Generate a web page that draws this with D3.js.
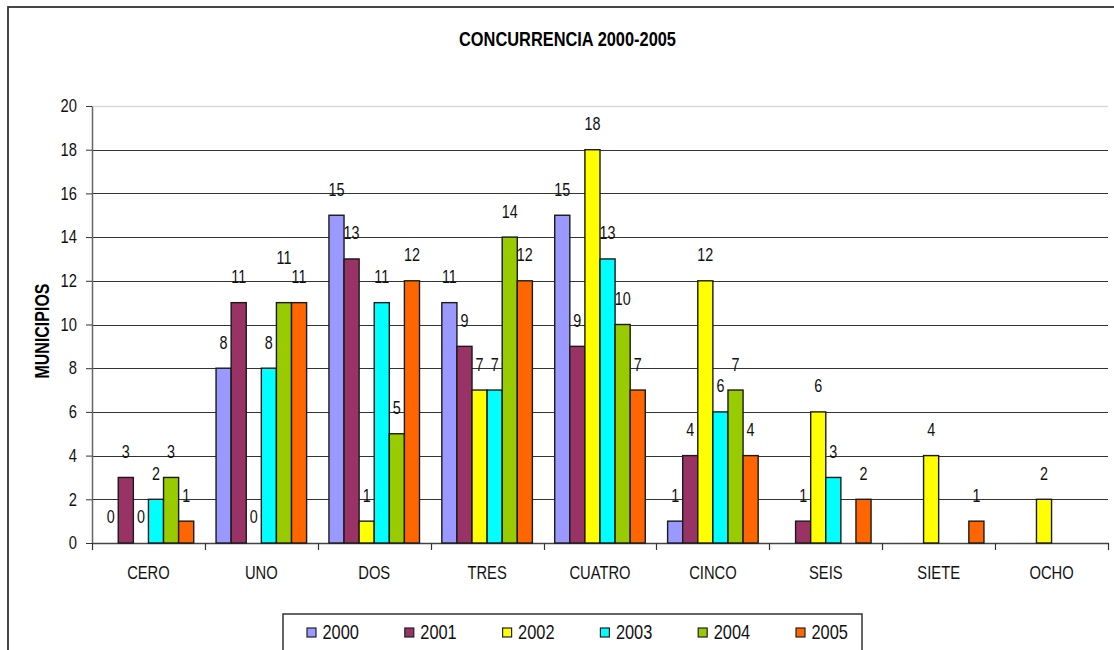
<!DOCTYPE html>
<html>
<head>
<meta charset="utf-8">
<script src="https://cdn.jsdelivr.net/npm/d3@7"></script>
<style>
  html, body { margin: 0; padding: 0; background: #fff; }
  svg { display: block; }
</style>
</head>
<body>
<svg id="chart" width="1114" height="650"></svg>
<script>
// ---------- DATA ----------
const categories = ["CERO", "UNO", "DOS", "TRES", "CUATRO", "CINCO", "SEIS", "SIETE", "OCHO"];
const years = ["2000", "2001", "2002", "2003", "2004", "2005"];
const v2000 = [0, 8, 15, 11, 15, 1, null, null, null];
const v2001 = [3, 11, 13, 9, 9, 4, 1, null, null];
const v2002 = [0, 0, 1, 7, 18, 12, 6, 4, 2];
const v2003 = [2, 8, 11, 7, 13, 6, 3, null, null];
const v2004 = [3, 11, 5, 14, 10, 7, null, null, null];
const v2005 = [1, 11, 12, 12, 7, 4, 2, 1, null];
const yTicks = [0, 2, 4, 6, 8, 10, 12, 14, 16, 18, 20];
const colors = ["#9999FF", "#993366", "#FFFF00", "#00FFFF", "#99CC00", "#FF6600"];
const titleText = "CONCURRENCIA 2000-2005";
const yTitle = "MUNICIPIOS";
// label that was lifted in the original to avoid overlap (style tweak)
const labelLift = { "UNO|2004": 19 };

const seriesValues = [v2000, v2001, v2002, v2003, v2004, v2005];

// ---------- SETUP ----------
const svg = d3.select("#chart");

let FONT = "'Liberation Sans Narrow', 'Arial Narrow'";
let SX = 1;
{
  const t = svg.append("text").style("font-size", "20px").text("CONCURRENCIA 2000");
  t.style("font-family", "'Liberation Sans Narrow'");
  const wN = t.node().getComputedTextLength();
  t.style("font-family", "'Liberation Sans'");
  const wR = t.node().getComputedTextLength();
  t.remove();
  if (!(wN / wR < 0.9)) { FONT = "'Liberation Sans', Arial, sans-serif"; SX = 0.82; }
}

svg.append("rect").attr("x", 0).attr("y", 0).attr("width", 1114).attr("height", 650).attr("fill", "#fff");
svg.append("rect").attr("x", 8).attr("y", 7).attr("width", 1300).attr("height", 800)
  .attr("fill", "#fff").attr("stroke", "#333").attr("stroke-width", 1.8);

const y = d3.scaleLinear().domain([0, 20]).range([543, 106]);
const x0 = d3.scaleBand().domain(categories).range([92, 1108]).paddingInner(0).paddingOuter(0);
const x1 = d3.scaleBand().domain(years).range([0, x0.bandwidth()]).paddingInner(0).paddingOuter(0.74);

// gridlines
svg.append("g").selectAll("line").data(yTicks.filter(d => d > 0)).join("line")
  .attr("x1", 92).attr("x2", 1108)
  .attr("y1", d => Math.round(y(d)) + 0.5).attr("y2", d => Math.round(y(d)) + 0.5)
  .attr("stroke", d => d === 20 ? "#d9d9d9" : "#333").attr("stroke-width", d => d === 20 ? 1.5 : 1);

// y axis
const yAxis = svg.append("g").attr("transform", "translate(92,0)")
  .call(d3.axisLeft(y).tickValues(yTicks).tickSize(6).tickSizeOuter(0).tickPadding(9));
yAxis.select(".domain").attr("stroke", "#666").attr("stroke-width", 1.5);
yAxis.selectAll(".tick line").attr("stroke", "#333");
yAxis.selectAll(".tick text").style("font-family", FONT).style("font-size", "18px").attr("fill", "#111");

// x axis
const xAxis = svg.append("g").attr("transform", "translate(0,543)")
  .call(d3.axisBottom(x0).tickSize(0).tickSizeOuter(0));
xAxis.select(".domain").attr("stroke", "#444").attr("stroke-width", 1.5);
xAxis.selectAll(".tick text").attr("y", 36).attr("dy", 0)
  .style("font-family", FONT).style("font-size", "18px").attr("fill", "#111");
const bounds = categories.map(c => x0(c)).concat([x0.range()[1]]);
svg.append("g").selectAll("line").data(bounds).join("line")
  .attr("x1", d => Math.round(d) + 0.5).attr("x2", d => Math.round(d) + 0.5)
  .attr("y1", 543).attr("y2", 550).attr("stroke", "#333").attr("stroke-width", 1.2);

// bars
const flat = [];
categories.forEach((c, i) => {
  years.forEach((yr, j) => {
    const v = seriesValues[j][i];
    if (v !== null && v !== undefined) flat.push({ c, yr, j, v });
  });
});

svg.append("g").selectAll("rect").data(flat.filter(d => d.v > 0)).join("rect")
  .attr("x", d => x0(d.c) + x1(d.yr))
  .attr("y", d => y(d.v))
  .attr("width", x1.bandwidth())
  .attr("height", d => y(0) - y(d.v))
  .attr("fill", d => colors[d.j])
  .attr("stroke", "#1a1a1a").attr("stroke-width", 1.4);

// data labels
svg.append("g").selectAll("text").data(flat).join("text")
  .attr("x", d => x0(d.c) + x1(d.yr) + x1.bandwidth() / 2)
  .attr("y", d => y(d.v) - 19.5 - (labelLift[d.c + "|" + d.yr] || 0))
  .attr("text-anchor", "middle")
  .style("font-family", FONT).style("font-size", "17.5px").attr("fill", "#111")
  .text(d => d.v);

// title
svg.append("text").attr("x", 567.5).attr("y", 46).attr("text-anchor", "middle")
  .style("font-family", FONT).style("font-size", "20px").style("font-weight", "bold").attr("fill", "#000")
  .text(titleText);

// legend
const lg = svg.append("g");
lg.append("rect").attr("x", 283).attr("y", 614).attr("width", 579).attr("height", 60)
  .attr("fill", "#fff").attr("stroke", "#333").attr("stroke-width", 1.5);
const legX = d3.scalePoint().domain(years).range([307, 796]);
const items = lg.selectAll("g.item").data(years).join("g").attr("class", "item");
items.append("rect").attr("x", d => legX(d)).attr("y", 628).attr("width", 9).attr("height", 9)
  .attr("fill", (d, i) => colors[i]).attr("stroke", "#222").attr("stroke-width", 1.2);
items.append("text").attr("x", d => legX(d) + 15.5).attr("y", 639.5)
  .style("font-family", FONT).style("font-size", "20px").attr("fill", "#111")
  .text(d => d);

if (SX !== 1) {
  svg.selectAll("text").each(function () {
    const el = d3.select(this);
    const xx = +el.attr("x") || 0;
    el.attr("transform", `translate(${xx},0) scale(${SX},1) translate(${-xx},0)`);
  });
}

// y title
svg.append("text").attr("transform", `translate(48.5,331) rotate(-90) scale(${SX},1)`)
  .attr("text-anchor", "middle")
  .style("font-family", FONT).style("font-size", "19.5px").style("font-weight", "bold").attr("fill", "#000")
  .text(yTitle);
</script>
</body>
</html>
